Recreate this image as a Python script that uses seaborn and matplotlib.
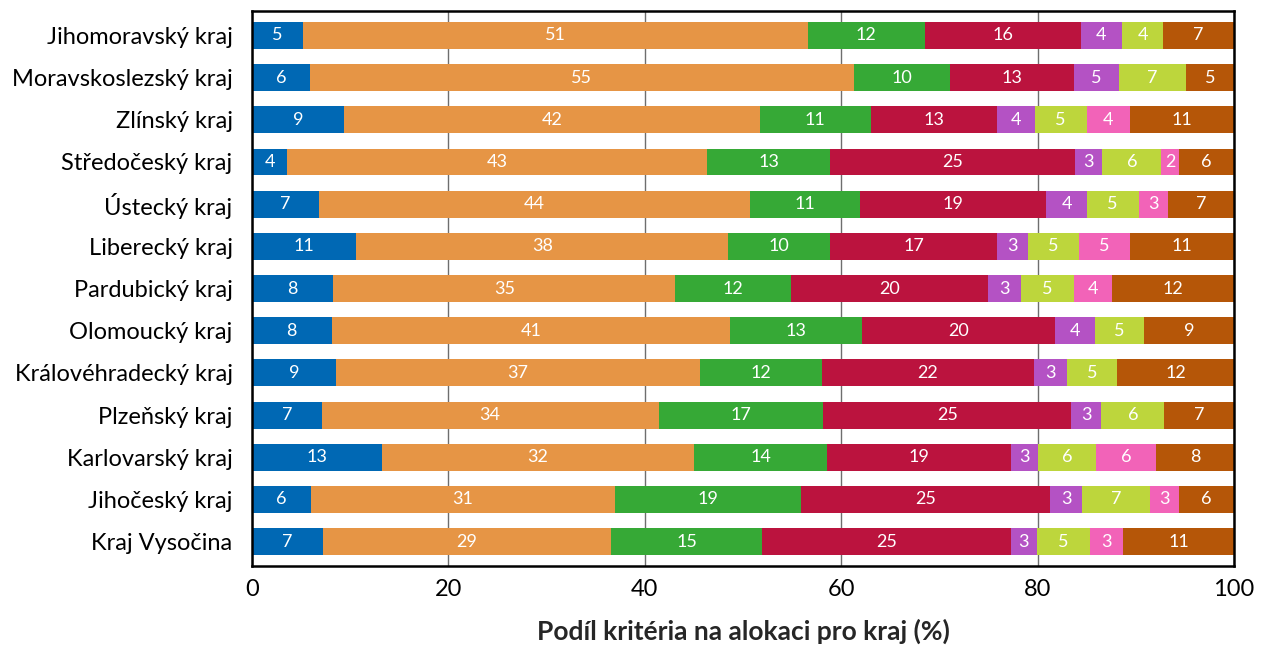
import matplotlib
matplotlib.use("Agg")
import matplotlib.pyplot as plt
import seaborn as sns
import numpy as np
import pandas as pd

# Regions (top to bottom)
kraje = [
    "Jihomoravský kraj", "Moravskoslezský kraj", "Zlínský kraj",
    "Středočeský kraj", "Ústecký kraj", "Liberecký kraj",
    "Pardubický kraj", "Olomoucký kraj", "Královéhradecký kraj",
    "Plzeňský kraj", "Karlovarský kraj", "Jihočeský kraj", "Kraj Vysočina",
]

# Share of each criterion (%) per region
krit_1 = [5.2, 5.9, 9.4, 3.6, 6.8, 10.6, 8.3, 8.1, 8.6, 7.1, 13.2, 6.0, 7.2]
krit_2 = [51.4, 55.4, 42.3, 42.7, 43.9, 37.9, 34.8, 40.6, 37.0, 34.3, 31.8, 31.0, 29.4]
krit_3 = [11.9, 9.8, 11.3, 12.6, 11.2, 10.4, 11.8, 13.4, 12.4, 16.8, 13.6, 18.9, 15.3]
krit_4 = [15.9, 12.6, 12.9, 24.9, 19.0, 17.0, 20.1, 19.7, 21.6, 25.2, 18.7, 25.4, 25.4]
krit_5 = [4.2, 4.6, 3.8, 2.8, 4.1, 3.1, 3.3, 4.0, 3.4, 3.1, 2.7, 3.2, 2.6]
krit_6 = [4.2, 6.8, 5.3, 6.0, 5.3, 5.2, 5.4, 5.0, 5.1, 6.4, 6.0, 7.0, 5.4]
krit_7 = [0.0, 0.0, 4.4, 1.8, 3.0, 5.2, 3.9, 0.0, 0.0, 0.0, 6.1, 2.9, 3.4]
krit_8 = [7.2, 4.9, 10.6, 5.6, 6.7, 10.6, 12.4, 9.2, 11.9, 7.1, 7.9, 5.6, 11.3]

series = [krit_1, krit_2, krit_3, krit_4, krit_5, krit_6, krit_7, krit_8]
colors = ["#0068B4", "#E69545", "#36A936", "#BB133E",
          "#B452C4", "#BDD63C", "#F263B8", "#B55608"]

values = np.array(series)            # shape (8, 13)
cum = np.cumsum(values, axis=0)      # right edge of each segment
starts = cum - values

sns.set_style("white")
plt.rcParams["font.family"] = ["Lato", "DejaVu Sans"]

fig, ax = plt.subplots(figsize=(12.63, 6.48), dpi=100)
fig.subplots_adjust(left=0.1995, right=0.977, top=0.983, bottom=0.1265)

# Stacked bars: draw cumulative totals from the widest down so each
# segment overlays the previous one
for i in range(len(series) - 1, -1, -1):
    df = pd.DataFrame({"kraj": kraje, "hodnota": cum[i]})
    sns.barplot(data=df, x="hodnota", y="kraj", order=kraje, orient="h",
                color=colors[i], saturation=1, width=0.64,
                edgecolor="none", linewidth=0, ax=ax, zorder=2)

# Segment labels
for i in range(len(series)):
    for j in range(len(kraje)):
        v = values[i, j]
        if v <= 0:
            continue
        ax.text(starts[i, j] + v / 2, j, f"{v:.0f}", ha="center",
                va="center", color="white", fontsize=13, zorder=3)

ax.set_xlim(0, 100)
ax.set_ylim(len(kraje) - 0.42, -0.58)
ax.set_xticks([0, 20, 40, 60, 80, 100])
ax.xaxis.grid(True, color="#6e6e6e", linewidth=1, zorder=0)
ax.set_axisbelow(True)

for side in ["left", "right", "top", "bottom"]:
    ax.spines[side].set_visible(True)
    ax.spines[side].set_color("black")
    ax.spines[side].set_linewidth(1.8)

ax.tick_params(axis="both", length=0, colors="black")
ax.tick_params(axis="x", pad=9, labelsize=17)
ax.tick_params(axis="y", pad=14, labelsize=17)
ax.set_ylabel("")
ax.set_xlabel("Podíl kritéria na alokaci pro kraj (%)", fontsize=19,
              fontweight="bold", labelpad=14)

plt.savefig("out.png", dpi=100)
